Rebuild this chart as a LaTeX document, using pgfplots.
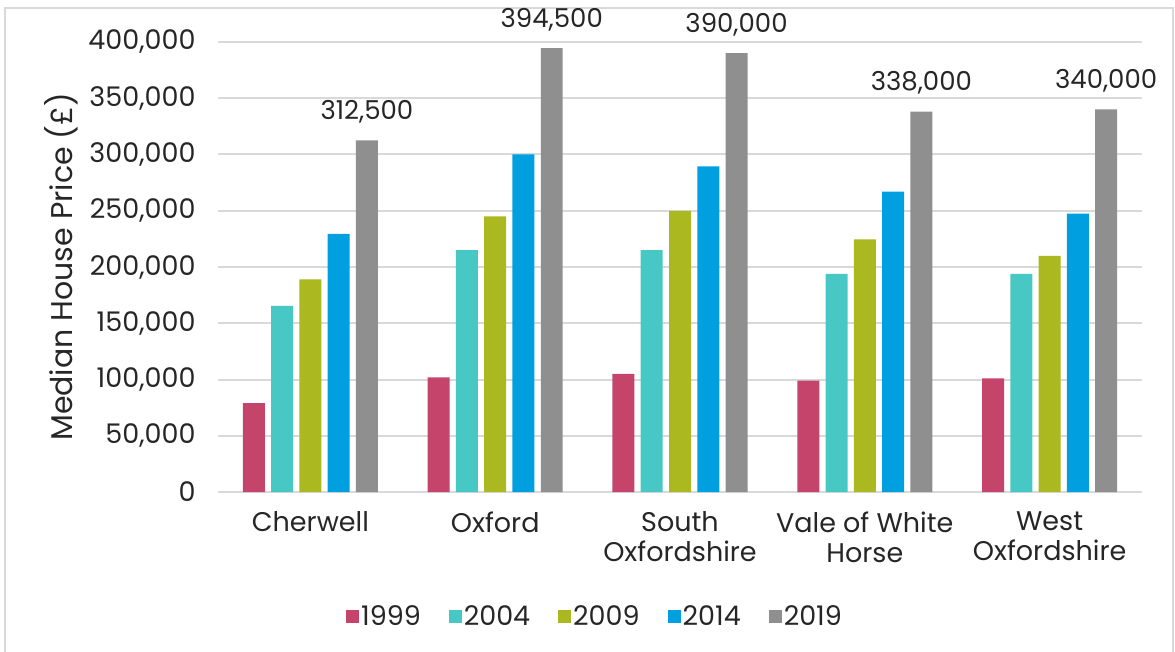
\documentclass[border=0pt]{standalone}
\usepackage{pgfplots}
\pgfplotsset{compat=1.18}
\usepackage{fontspec}
\setmainfont{Poppins}
\definecolor{c1999}{RGB}{197,68,107}
\definecolor{c2004}{RGB}{72,200,196}
\definecolor{c2009}{RGB}{171,184,32}
\definecolor{c2014}{RGB}{0,159,224}
\definecolor{c2019}{RGB}{143,143,143}
\definecolor{gridc}{RGB}{217,217,217}
\definecolor{txt}{RGB}{38,38,38}
\begin{document}
\begin{tikzpicture}
\path[use as bounding box] (0pt,0pt) rectangle (1175pt,-652pt);
\draw[gridc, line width=2pt] (5pt,-660pt) -- (5pt,-8pt) -- (1173pt,-8pt) -- (1173pt,-660pt);
\begin{axis}[
  at={(218pt,-492pt)}, anchor=south west,
  width=924pt, height=450pt, scale only axis,
  xmin=-0.5, xmax=4.5, ymin=0, ymax=400000,
  axis line style={draw=none},
  major tick length=0pt,
  ymajorgrids, grid style={gridc, line width=2pt},
  ytick={0,50000,...,400000},
  scaled y ticks=false,
  yticklabel style={xshift=-19pt, /pgf/number format/.cd, 1000 sep={,}, fixed, assume math mode=true},
  xtick={0,1,2,3,4},
  xticklabels={Cherwell, Oxford, South\\Oxfordshire, Vale of White\\Horse, West\\Oxfordshire},
  xticklabel style={align=center, yshift=-16pt},
  tick label style={font=\fontsize{27}{30}\selectfont, text=txt},
  ylabel={Median House Price (£)},
  ylabel style={at={(axis description cs:-0.170,0.5)}, anchor=center, font=\fontsize{30}{34}\selectfont, text=txt},
  ybar, bar width=0.119,
  legend columns=5,
  legend style={at={(0.408,-0.2756)}, anchor=center, draw=none, fill=none,
    font=\fontsize{27}{30}\selectfont, text=txt,
    /tikz/every even column/.append style={column sep=26pt}},
  legend image code/.code={\path[#1,draw=none] (0pt,-6.5pt) rectangle (13pt,6.5pt);},
]
\addplot[fill=c1999, draw=none, bar shift=-0.306] coordinates {(0,79000) (1,102000) (2,105000) (3,99000) (4,101000)};
\addplot[fill=c2004, draw=none, bar shift=-0.153] coordinates {(0,165500) (1,215000) (2,215000) (3,194000) (4,194000)};
\addplot[fill=c2009, draw=none, bar shift=0] coordinates {(0,189000) (1,245000) (2,250000) (3,224500) (4,210000)};
\addplot[fill=c2014, draw=none, bar shift=0.153] coordinates {(0,229500) (1,300000) (2,289500) (3,267000) (4,247500)};
\addplot[fill=c2019, draw=none, bar shift=0.306,
  nodes near coords={\pgfmathprintnumber[1000 sep={,},fixed,assume math mode=true]{\pgfplotspointmeta}},
  every node near coord/.append style={font=\fontsize{26}{30}\selectfont, text=txt, anchor=base, yshift=21pt}]
  coordinates {(0,312500) (1,394500) (2,390000) (3,338000) (4,340000)};
\legend{1999,2004,2009,2014,2019}
\end{axis}
\end{tikzpicture}
\end{document}
